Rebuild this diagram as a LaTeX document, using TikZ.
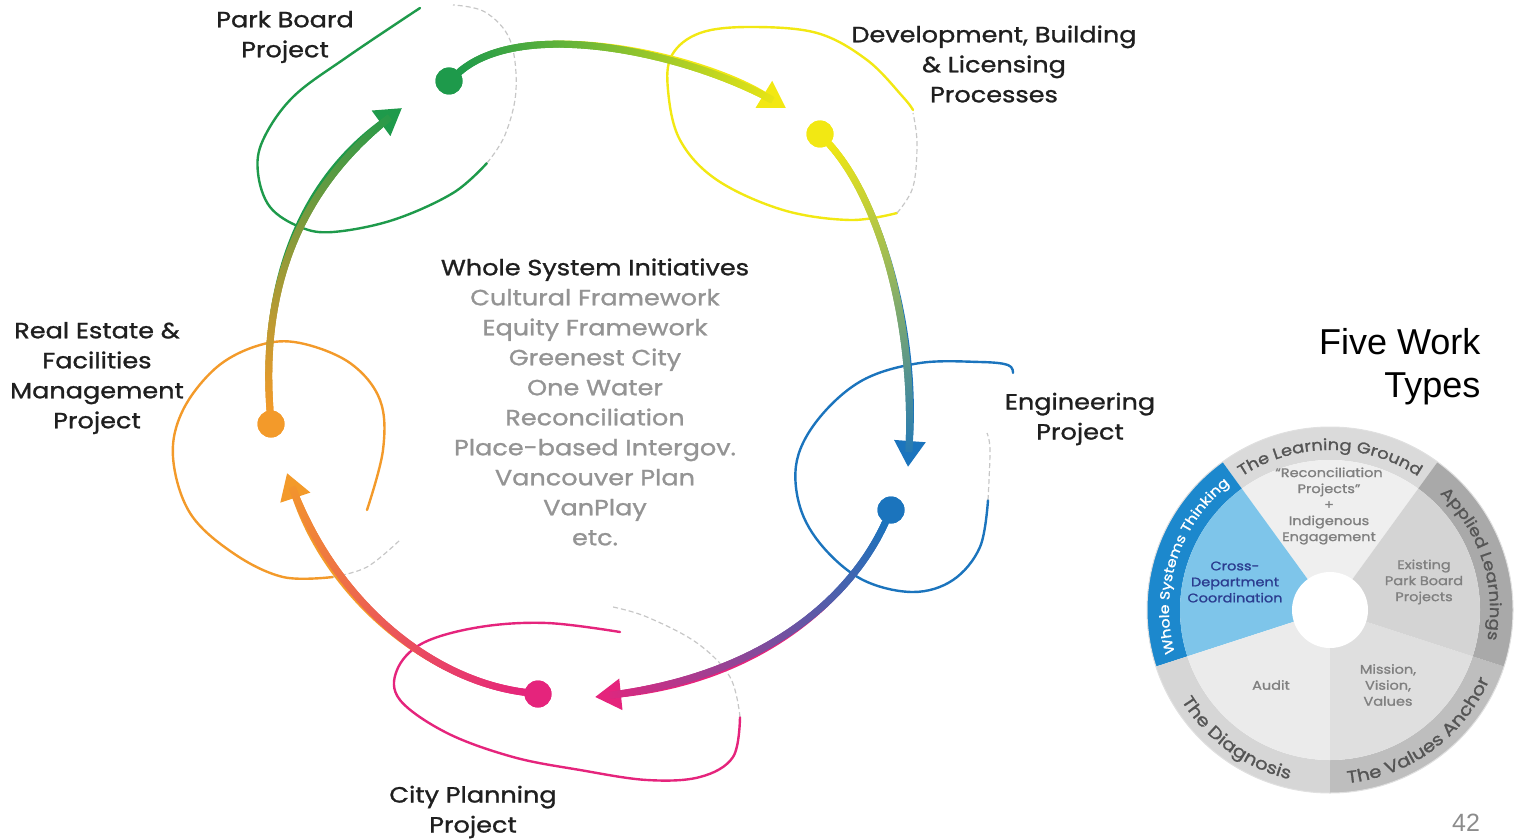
\documentclass[tikz,border=0pt]{standalone}
\usepackage{fontspec}
\newfontfamily\labelfont{Poppins}[FakeStretch=1.16, FakeBold=1.2]
\newfontfamily\slidefont{Liberation Sans}
\definecolor{pkgreen}{HTML}{1E9A4B}
\definecolor{dvyellow}{HTML}{F2E813}
\definecolor{enblue}{HTML}{1B74BD}
\definecolor{cppink}{HTML}{E5247C}
\definecolor{reorange}{HTML}{F39A2A}
\definecolor{listgrey}{HTML}{949494}
\definecolor{lgring}{HTML}{DADADA}
\definecolor{lgfill}{HTML}{EFEFEF}
\definecolor{alring}{HTML}{A9A9A9}
\definecolor{alfill}{HTML}{D4D4D4}
\definecolor{varing}{HTML}{BEBEBE}
\definecolor{vafill}{HTML}{DFDFDF}
\definecolor{dgring}{HTML}{D6D6D6}
\definecolor{dgfill}{HTML}{EBEBEB}
\definecolor{wsring}{HTML}{1C88CD}
\definecolor{wsfill}{HTML}{7EC5EA}
\definecolor{ringtext}{HTML}{555555}
\definecolor{cdblue}{HTML}{2B3C8F}
\usetikzlibrary{arrows.meta}
\usetikzlibrary{decorations.markings}
\usetikzlibrary{decorations.text}

\tikzset{
	dot/.style={circle, fill=#1, inner sep=0pt, minimum size=27pt},
	loopline/.style={#1, line width=2.4pt, line cap=round},
	fadeline/.style={black!22, line width=1.2pt, dash pattern=on 5pt off 3pt},
	proj/.style={font=\labelfont\fontsize{22}{30}\selectfont, align=center, text=black!88},
	sector/.style={font=\labelfont\fontsize{12.5}{16}\selectfont, align=center, text=#1},
	flow/.style 2 args={
		line width=6pt, color=#2, -{Triangle[length=26pt,width=30pt]},
		postaction={decorate, decoration={markings,
				mark=between positions 0 and -18pt step 1.2pt with {
					\pgfmathsetmacro\flowpct{\pgfkeysvalueof{/pgf/decoration/mark info/distance from start}/\pgfdecoratedpathlength*100}
					\colorlet{flowcol}{#2!\flowpct!#1}
					\fill[flowcol] (-1.3pt,-3.5pt) rectangle (1.3pt,3.5pt);
		}}}
	}
}

\begin{document}
\begin{tikzpicture}[x=1pt,y=1pt]
	\useasboundingbox (0,0) rectangle (1515,-840);
	%loops
	\draw[loopline=pkgreen] plot[smooth, tension=0.6] coordinates {(420,-8) (347,-57) (293,-97) (263,-140) (258,-173) (270,-207) (300,-227) (333,-232) (393,-220) (453,-193) (487,-163)};
	\draw[fadeline] plot[smooth, tension=0.6] coordinates {(487,-163) (505,-135) (516,-90) (510,-40) (485,-12) (453,-5)};
	\draw[loopline=dvyellow] plot[smooth, tension=0.6] coordinates {(913,-110) (903,-97) (867,-60) (817,-33) (750,-27) (700,-33) (672,-55) (668,-90) (680,-140) (717,-180) (783,-210) (850,-220) (897,-213)};
	\draw[fadeline] plot[smooth, tension=0.6] coordinates {(897,-213) (913,-187) (917,-143) (913,-113)};
	\draw[loopline=enblue] plot[smooth, tension=0.6] coordinates {(1013,-373) (1008,-365) (980,-362) (920,-363) (863,-380) (820,-417) (797,-460) (800,-507) (823,-547) (863,-580) (913,-592) (953,-580) (980,-547) (988,-500)};
	\draw[fadeline] plot[smooth, tension=0.6] coordinates {(988,-500) (990,-450) (987,-433)};
	\draw[loopline=cppink] plot[smooth, tension=0.6] coordinates {(620,-632) (547,-623) (480,-627) (423,-643) (397,-670) (400,-700) (447,-733) (513,-757) (580,-770) (647,-780) (700,-777) (733,-757) (740,-717)};
	\draw[fadeline] plot[smooth, tension=0.6] coordinates {(740,-717) (730,-677) (697,-643) (647,-617) (613,-607)};
	\draw[loopline=reorange] plot[smooth, tension=0.6] coordinates {(367,-510) (383,-450) (380,-400) (350,-363) (300,-343) (260,-345) (217,-367) (183,-410) (173,-457) (190,-513) (233,-553) (283,-577) (333,-577)};
	\draw[fadeline] plot[smooth, tension=0.6] coordinates {(333,-577) (367,-567) (400,-540)};

	%project dots
	\node[dot=pkgreen] (park) at (449,-81) {};
	\node[dot=dvyellow] (dev) at (820,-134) {};
	\node[dot=enblue] (eng) at (891,-510) {};
	\node[dot=cppink] (plan) at (538,-694) {};
	\node[dot=reorange] (estate) at (271,-424) {};
	\coordinate (devtip) at (786,-108);
	\coordinate (engtip) at (908,-467);
	\coordinate (plantip) at (595,-697);
	\coordinate (estatetip) at (287,-473);
	\coordinate (parktip) at (402,-108);

	%flows
	\draw[flow={pkgreen}{dvyellow}] (park) .. controls (525,-15) and (700,-55) .. (devtip);
	\draw[flow={dvyellow}{enblue}] (dev) .. controls (880,-200) and (918,-330) .. (engtip);
	\draw[flow={enblue}{cppink}] (eng) .. controls (850,-600) and (760,-680) .. (plantip);
	\draw[flow={cppink}{reorange}] (plan) .. controls (430,-680) and (330,-600) .. (estatetip);
	\draw[flow={reorange}{pkgreen}] (estate) .. controls (262,-300) and (290,-190) .. (parktip);
	\node[dot=pkgreen] at (park) {};
	\node[dot=dvyellow] at (dev) {};
	\node[dot=enblue] at (eng) {};
	\node[dot=cppink] at (plan) {};
	\node[dot=reorange] at (estate) {};

	%labels
	\node[proj] (parklbl) at (285,-37) {Park Board\\Project};
	\node[proj] (devlbl) at (994,-64) {Development, Building\\\& Licensing\\Processes};
	\node[proj] (englbl) at (1080,-419) {Engineering\\Project};
	\node[proj] (planlbl) at (473,-812) {City Planning\\Project};
	\node[proj] (estatelbl) at (97,-378) {Real Estate \&\\Facilities\\Management\\Project};
	\node[proj, text=listgrey] (wsi) at (595,-402) {\textcolor{black!88}{Whole System Initiatives}\\Cultural Framework\\Equity Framework\\Greenest City\\One Water\\Reconciliation\\Place-based Intergov.\\Vancouver Plan\\VanPlay\\etc.};

	\node[font=\slidefont\fontsize{36}{43}\selectfont, align=right, anchor=east] (fwt) at (1484,-367) {Five Work\\Types};
	\node[font=\slidefont\fontsize{25}{25}\selectfont, text=black!45] (pgno) at (1466,-823) {42};

	%wheel
	\begin{scope}[shift={(1330,-610)}]
		\foreach \a/\ring/\fillc in {54/lgring/lgfill, 126/wsring/wsfill, 198/dgring/dgfill, 270/varing/vafill, 342/alring/alfill}
		{
			\fill[\ring] (\a:183) arc[start angle=\a, delta angle=72, radius=183] -- (\a+72:150) arc[start angle=\a+72, delta angle=-72, radius=150] -- cycle;
			\fill[\fillc] (0,0) -- (\a:150) arc[start angle=\a, delta angle=72, radius=150] -- cycle;
		}
		\draw[black!12, line width=1pt] (0,0) circle (183);
		\fill[white] (0,0) circle (38);
		\path[decorate, decoration={text along path, text align=center, text color=ringtext,
			text={|\labelfont\fontsize{15.5}{16}\selectfont|The Learning Ground}}]
			(125:160) arc[start angle=125, end angle=55, radius=160];
		\path[decorate, decoration={text along path, text align=center, text color=ringtext,
			text={|\labelfont\fontsize{15.5}{16}\selectfont|Applied Learnings}}]
			(53:160) arc[start angle=53, end angle=-17, radius=160];
		\path[decorate, decoration={text along path, text align=center, text color=ringtext,
			text={|\labelfont\fontsize{17}{17}\selectfont|The Values Anchor}}]
			(271:174) arc[start angle=271, end angle=341, radius=174];
		\path[decorate, decoration={text along path, text align=center, text color=ringtext,
			text={|\labelfont\fontsize{17}{17}\selectfont|The Diagnosis}}]
			(199:174) arc[start angle=199, end angle=269, radius=174];
		\path[decorate, decoration={text along path, text align=center, text color=white,
			text={|\labelfont\fontsize{13.5}{14}\selectfont|Whole Systems Thinking}}]
			(197:161) arc[start angle=197, end angle=127, radius=161];
		\node[sector=black!50] (recon) at (-1,104) {“Reconciliation\\Projects”\\+\\Indigenous\\Engagement};
		\node[sector=black!50] (exist) at (94,28) {Existing\\Park Board\\Projects};
		\node[sector=black!50] (mission) at (58,-75) {Mission,\\Vision,\\Values};
		\node[sector=black!50] (audit) at (-59,-75) {Audit};
		\node[sector=cdblue] (cross) at (-95,28) {Cross-\\Department\\Coordination};
	\end{scope}
\end{tikzpicture}
\end{document}
